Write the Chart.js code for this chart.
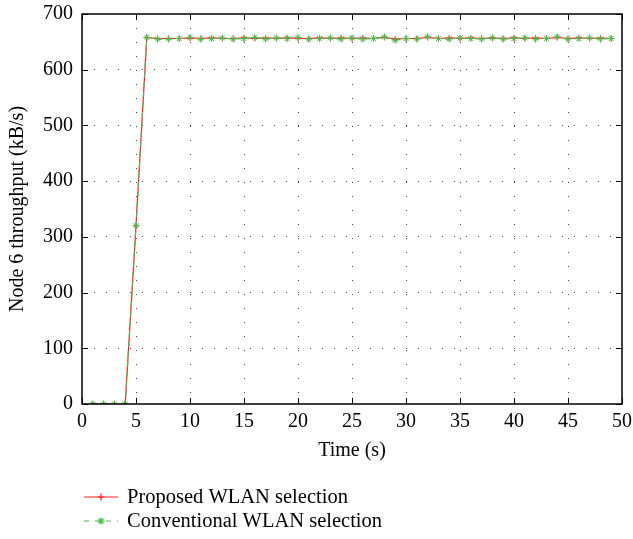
<!DOCTYPE html>
<html>
<head>
<meta charset="utf-8">
<script src="https://cdn.jsdelivr.net/npm/chart.js@4"></script>
<style>
  html, body { margin: 0; padding: 0; background: #fff; }
  #wrap { width: 633px; height: 539px; }
</style>
</head>
<body>
<div id="wrap"><canvas id="thru"></canvas></div>
<script>
const times = [1,2,3,4,5,6,7,8,9,10,11,12,13,14,15,16,17,18,19,20,21,22,23,24,25,26,27,28,29,30,31,32,33,34,35,36,37,38,39,40,41,42,43,44,45,46,47,48,49];
const proposed = [0,0,0,0,320,658,656,656,656,657,656,657,656,656,657,656,657,656,657,656,656,657,656,657,656,657,656,658,655,656,656,658,656,657,656,657,656,657,656,657,656,657,656,658,656,657,656,657,656];
const conventional = [0,0,0,0,320,658,655,655,656,658,655,656,657,655,656,658,655,657,656,658,655,656,657,655,657,655,656,659,653,656,655,659,656,655,657,656,655,657,655,656,657,655,656,659,655,656,657,655,656];
const xTicks = [0,5,10,15,20,25,30,35,40,45,50];
const yTicks = [0,100,200,300,400,500,600,700];

const RED = '#ff2020';
const GREEN = '#4cbb4c';
const FONT = '"Liberation Serif", "DejaVu Serif", serif';

const ctx = document.getElementById('thru');

// frame + inward ticks, like the gnuplot original
const framePlugin = {
    id: 'frame',
    afterDraw(chart) {
        const c = chart.ctx;
        const a = chart.chartArea;
        const xs = chart.scales.x, ys = chart.scales.y;
        c.save();
        c.strokeStyle = '#000';
        c.lineWidth = 1;
        c.beginPath();
        xTicks.forEach(function(v) {
            const px = Math.round(xs.getPixelForValue(v)) + 0.5;
            c.moveTo(px, a.bottom); c.lineTo(px, a.bottom - 6);
            c.moveTo(px, a.top); c.lineTo(px, a.top + 6);
        });
        yTicks.forEach(function(v) {
            const py = Math.round(ys.getPixelForValue(v)) + 0.5;
            c.moveTo(a.left, py); c.lineTo(a.left + 6, py);
            c.moveTo(a.right, py); c.lineTo(a.right - 6, py);
        });
        c.stroke();
        c.lineWidth = 1.5;
        c.strokeRect(a.left, a.top, a.right - a.left, a.bottom - a.top);

        // legend below the plot
        c.font = '20.5px ' + FONT;
        c.textBaseline = 'middle';
        c.fillStyle = '#000';
        const rows = [
            { label: 'Proposed WLAN selection', color: RED, dash: [], y: 497, marker: 'plus' },
            { label: 'Conventional WLAN selection', color: GREEN, dash: [5, 6], y: 521, marker: 'star' }
        ];
        rows.forEach(function(r) {
            c.strokeStyle = r.color;
            c.lineWidth = 1.2;
            c.setLineDash(r.dash);
            c.beginPath();
            c.moveTo(84, r.y); c.lineTo(118, r.y);
            c.stroke();
            c.setLineDash([]);
            c.beginPath();
            c.moveTo(101, r.y - 3.5); c.lineTo(101, r.y + 3.5);
            c.moveTo(97.5, r.y); c.lineTo(104.5, r.y);
            if (r.marker === 'star') {
                c.moveTo(98.5, r.y - 2.5); c.lineTo(103.5, r.y + 2.5);
                c.moveTo(98.5, r.y + 2.5); c.lineTo(103.5, r.y - 2.5);
            }
            c.stroke();
            c.fillText(r.label, 127, r.y + 1);
        });
        c.restore();
    }
};

const chart = new Chart(ctx, {
    type: 'line',
    data: {
        datasets: [
            {
                label: 'Proposed WLAN selection',
                data: times.map((t, i) => ({ x: t, y: proposed[i] })),
                borderColor: RED,
                backgroundColor: RED,
                borderWidth: 1.2,
                pointStyle: 'cross',
                pointRadius: 3,
                pointBorderWidth: 1,
                tension: 0,
                order: 2
            },
            {
                label: 'Conventional WLAN selection',
                data: times.map((t, i) => ({ x: t, y: conventional[i] })),
                borderColor: GREEN,
                backgroundColor: GREEN,
                borderWidth: 1.2,
                borderDash: [5, 5],
                pointStyle: 'star',
                pointRadius: 3.5,
                pointBorderWidth: 1,
                tension: 0,
                order: 1
            }
        ]
    },
    options: {
        responsive: true,
        maintainAspectRatio: false,
        animation: false,
        layout: {
            padding: { left: 0, right: 11, top: 14, bottom: 76 }
        },
        plugins: {
            legend: { display: false },
            tooltip: { enabled: false }
        },
        scales: {
            x: {
                type: 'linear',
                min: 0,
                max: 50,
                afterBuildTicks: function(scale) {
                    scale.ticks = xTicks.map(v => ({ value: v }));
                },
                afterFit: function(scale) {
                    scale.height = 59;
                    scale.paddingLeft = 0;
                    scale.paddingRight = 0;
                },
                ticks: {
                    color: '#000',
                    font: { family: FONT, size: 20 },
                    padding: 6,
                    maxRotation: 0
                },
                grid: {
                    color: function(c) {
                        return (c.tick.value === 0 || c.tick.value === 50) ? 'rgba(0,0,0,0)' : '#444';
                    },
                    lineWidth: 1,
                    drawTicks: false
                },
                border: { display: false, dash: [1, 13] },
                title: {
                    display: true,
                    text: 'Time (s)',
                    color: '#000',
                    font: { family: FONT, size: 20 },
                    padding: { top: 4, bottom: 0 }
                }
            },
            y: {
                type: 'linear',
                min: 0,
                max: 700,
                afterBuildTicks: function(scale) {
                    scale.ticks = yTicks.map(v => ({ value: v }));
                },
                afterFit: function(scale) {
                    scale.width = 82;
                    scale.paddingTop = 0;
                    scale.paddingBottom = 0;
                },
                ticks: {
                    color: '#000',
                    font: { family: FONT, size: 20 },
                    padding: 9
                },
                grid: {
                    color: function(c) {
                        return (c.tick.value === 0 || c.tick.value === 700) ? 'rgba(0,0,0,0)' : '#444';
                    },
                    lineWidth: 1,
                    drawTicks: false
                },
                border: { display: false, dash: [1, 11] },
                title: {
                    display: true,
                    text: 'Node 6 throughput (kB/s)',
                    color: '#000',
                    font: { family: FONT, size: 20 },
                    padding: { top: 6, bottom: 4 }
                }
            }
        }
    },
    plugins: [framePlugin]
});
</script>
</body>
</html>
